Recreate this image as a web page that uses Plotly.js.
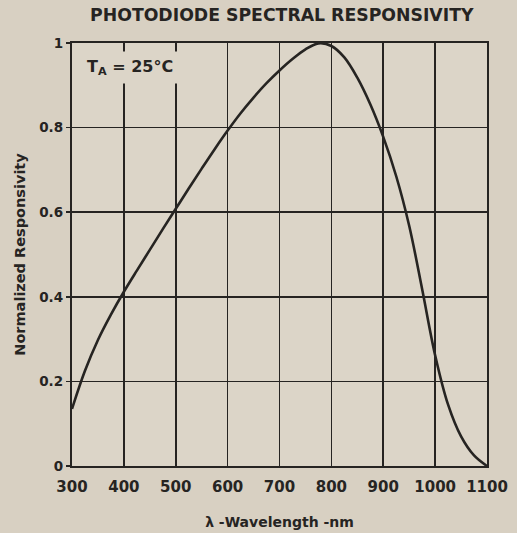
<!DOCTYPE html>
<html>
<head>
<meta charset="utf-8">
<script src="https://cdn.plot.ly/plotly-3.0.1.min.js"></script>
<style>html,body{margin:0;padding:0;background:#d8d0c2;}</style>
</head>
<body>
<div id="chart" style="width:517px;height:533px;"></div>
<script>
const wavelength = [300, 325, 350, 375, 400, 425, 450, 475, 500, 525, 550, 575, 600, 625, 650, 675, 700, 725, 750, 775, 800, 825, 850, 875, 900, 925, 950, 975, 1000, 1025, 1050, 1075, 1100];
const responsivity = [0.135, 0.225, 0.298, 0.358, 0.412, 0.462, 0.511, 0.560, 0.608, 0.656, 0.703, 0.749, 0.793, 0.834, 0.871, 0.905, 0.935, 0.962, 0.985, 0.999, 0.993, 0.966, 0.918, 0.855, 0.778, 0.685, 0.568, 0.418, 0.262, 0.145, 0.07, 0.025, 0.0];
const xTicks = [300, 400, 500, 600, 700, 800, 900, 1000, 1100];
const xTickText = ['300', '400', '500', '600', '700', '800', '900', '1000', '1100'];
const yTicks = [0, 0.2, 0.4, 0.6, 0.8, 1];
const yTickText = ['0', '0.2', '0.4', '0.6', '0.8', '1'];

const ink = '#262422';
const bg = '#d8d0c2';
const plotBg = '#dcd5c8';
const fontFam = 'DejaVu Sans, Liberation Sans, sans-serif';

const trace = {
  x: wavelength,
  y: responsivity,
  type: 'scatter',
  mode: 'lines',
  line: {color: ink, width: 2.6, shape: 'spline', smoothing: 1},
  hoverinfo: 'skip'
};

const layout = {
  width: 517,
  height: 533,
  paper_bgcolor: bg,
  plot_bgcolor: plotBg,
  margin: {l: 72, r: 30, t: 43, b: 67},
  showlegend: false,
  title: {
    text: 'PHOTODIODE SPECTRAL RESPONSIVITY',
    font: {family: fontFam, size: 17.3, color: ink, weight: 'bold'},
    x: 0.545, xanchor: 'center', y: 0.972, yanchor: 'middle'
  },
  xaxis: {
    range: [300, 1100],
    tickvals: xTicks,
    ticktext: xTickText,
    showgrid: true,
    gridcolor: ink,
    gridwidth: 1.6,
    zeroline: false,
    showline: true,
    linecolor: ink,
    linewidth: 2.2,
    mirror: true,
    ticks: '',
    ticklabelstandoff: 6,
    tickfont: {family: fontFam, size: 15, color: ink, weight: 'bold'},
    title: {
      text: 'λ -Wavelength -nm',
      font: {family: fontFam, size: 14, color: ink, weight: 'bold'},
      standoff: 22
    }
  },
  yaxis: {
    range: [0, 1],
    tickvals: yTicks,
    ticktext: yTickText,
    showgrid: true,
    gridcolor: ink,
    gridwidth: 1.6,
    zeroline: false,
    showline: true,
    linecolor: ink,
    linewidth: 2.2,
    mirror: true,
    ticks: 'outside',
    ticklen: 4,
    tickwidth: 1.5,
    tickcolor: ink,
    ticklabelstandoff: 0,
    tickfont: {family: fontFam, size: 13.5, color: ink, weight: 'bold'},
    title: {
      text: 'Normalized Responsivity',
      font: {family: fontFam, size: 14.5, color: ink, weight: 'bold'},
      standoff: 10
    }
  },
  annotations: [{
    x: 317, y: 0.941, xref: 'x', yref: 'y',
    xanchor: 'left', yanchor: 'middle',
    text: 'T<sub>A</sub> = 25°C',
    showarrow: false,
    bgcolor: plotBg,
    borderpad: 5,
    font: {family: fontFam, size: 16, color: ink, weight: 'bold'}
  }]
};

Plotly.newPlot('chart', [trace], layout, {displayModeBar: false, staticPlot: true});
</script>
</body>
</html>
